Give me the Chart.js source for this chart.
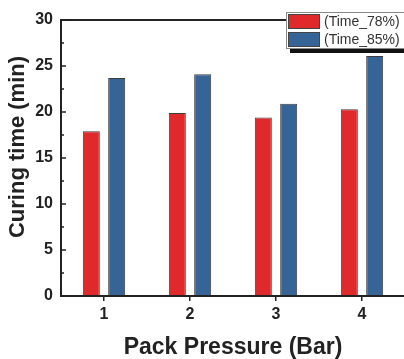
<!DOCTYPE html>
<html>
<head>
<meta charset="utf-8">
<script src="https://cdn.jsdelivr.net/npm/chart.js@4/dist/chart.umd.min.js"></script>
<style>
html, body { margin: 0; padding: 0; background: #fff; overflow: hidden; }
#wrap { width: 412px; height: 359px; }
</style>
</head>
<body>
<div id="wrap"><canvas id="chart"></canvas></div>
<script>
var pressures = ['1', '2', '3', '4'];
var time78 = [17.9, 19.9, 19.4, 20.3];
var time85 = [23.7, 24.1, 20.9, 26.1];
var seriesNames = ['(Time_78%)', '(Time_85%)'];
var seriesColors = ['#e0292a', '#376497'];
var yMin = 0, yMax = 30, yStep = 5;
var yTitle = 'Curing time (min)';

var ink = '#222';
var family = '"Liberation Sans", Arial, sans-serif';

// frame, inward y ticks, y title and the boxed legend with its drop shadow
var framePlugin = {
    id: 'frame',
    afterDatasetsDraw: function (chart) {
        var ctx = chart.ctx;
        var a = chart.chartArea;
        var y = chart.scales.y;
        var legendX = 286, legendY = 12, legendW = 130, legendH = 36;

        ctx.save();
        ctx.strokeStyle = ink;
        ctx.lineWidth = 2;
        ctx.beginPath();
        ctx.moveTo(legendX, a.top);
        ctx.lineTo(a.left, a.top);
        ctx.lineTo(a.left, a.bottom);
        ctx.lineTo(a.right, a.bottom);
        ctx.stroke();

        ctx.lineWidth = 1.5;
        var ticks = y.ticks;
        for (var i = 0; i < ticks.length; i++) {
            var py = y.getPixelForValue(ticks[i].value);
            ctx.beginPath();
            ctx.moveTo(a.left, py);
            ctx.lineTo(a.left + 5, py);
            ctx.stroke();
            if (i < ticks.length - 1) {
                var my = y.getPixelForValue((ticks[i].value + ticks[i + 1].value) / 2);
                ctx.beginPath();
                ctx.moveTo(a.left, my);
                ctx.lineTo(a.left + 3, my);
                ctx.stroke();
            }
        }

        // y title sits a little above the middle of the axis
        ctx.save();
        ctx.translate(18, 147);
        ctx.rotate(-Math.PI / 2);
        ctx.font = 'bold 22px ' + family;
        ctx.fillStyle = ink;
        ctx.textAlign = 'center';
        ctx.textBaseline = 'middle';
        ctx.fillText(yTitle, 0, 0);
        ctx.restore();

        // legend
        ctx.fillStyle = '#111';
        ctx.fillRect(legendX + 4, legendY + legendH, legendW, 5);
        ctx.fillStyle = '#fff';
        ctx.fillRect(legendX, legendY, legendW, legendH);
        ctx.strokeStyle = '#888';
        ctx.lineWidth = 1;
        ctx.strokeRect(legendX + 0.5, legendY + 0.5, legendW, legendH);

        ctx.font = '14px ' + family;
        ctx.textBaseline = 'middle';
        ctx.textAlign = 'left';
        chart.data.datasets.forEach(function (ds, k) {
            var ry = legendY + 2 + k * 18;
            ctx.fillStyle = ds.backgroundColor;
            ctx.fillRect(legendX + 2, ry, 32, 15);
            ctx.strokeStyle = '#444';
            ctx.strokeRect(legendX + 2.5, ry + 0.5, 31, 14);
            ctx.fillStyle = '#333';
            ctx.fillText(ds.label, legendX + 38, ry + 8);
        });
        ctx.restore();
    }
};

var ctx = document.getElementById('chart').getContext('2d');
new Chart(ctx, {
    type: 'bar',
    data: {
        labels: pressures,
        datasets: [{
            label: seriesNames[0],
            data: time78,
            backgroundColor: seriesColors[0],
            borderColor: '#3c3c3c',
            borderWidth: 1,
            borderSkipped: false
        }, {
            label: seriesNames[1],
            data: time85,
            backgroundColor: seriesColors[1],
            borderColor: '#3c3c3c',
            borderWidth: 1,
            borderSkipped: false
        }]
    },
    options: {
        responsive: true,
        maintainAspectRatio: false,
        animation: false,
        layout: { padding: { top: 20, right: 7, left: 0, bottom: 0 } },
        datasets: {
            bar: { categoryPercentage: 0.59, barPercentage: 0.67 }
        },
        plugins: {
            legend: { display: false },
            tooltip: { enabled: false }
        },
        scales: {
            x: {
                grid: {
                    offset: false,
                    drawOnChartArea: false,
                    tickLength: 5,
                    lineWidth: 1.5,
                    color: ink
                },
                border: { display: false },
                ticks: {
                    color: ink,
                    padding: 4,
                    font: { family: family, size: 16, weight: 'bold' }
                },
                title: {
                    display: true,
                    text: 'Pack Pressure (Bar)',
                    color: ink,
                    padding: { top: 0, bottom: 0 },
                    font: { family: family, size: 23, weight: 'bold', lineHeight: 1.0 }
                },
                afterFit: function (s) { s.height = 63; }
            },
            y: {
                min: yMin,
                max: yMax,
                grid: { display: false, drawTicks: false },
                border: { display: false },
                ticks: {
                    stepSize: yStep,
                    color: ink,
                    padding: 8,
                    font: { family: family, size: 16, weight: 'bold' }
                },
                afterFit: function (s) { s.width = 61; }
            }
        }
    },
    plugins: [framePlugin]
});
</script>
</body>
</html>
